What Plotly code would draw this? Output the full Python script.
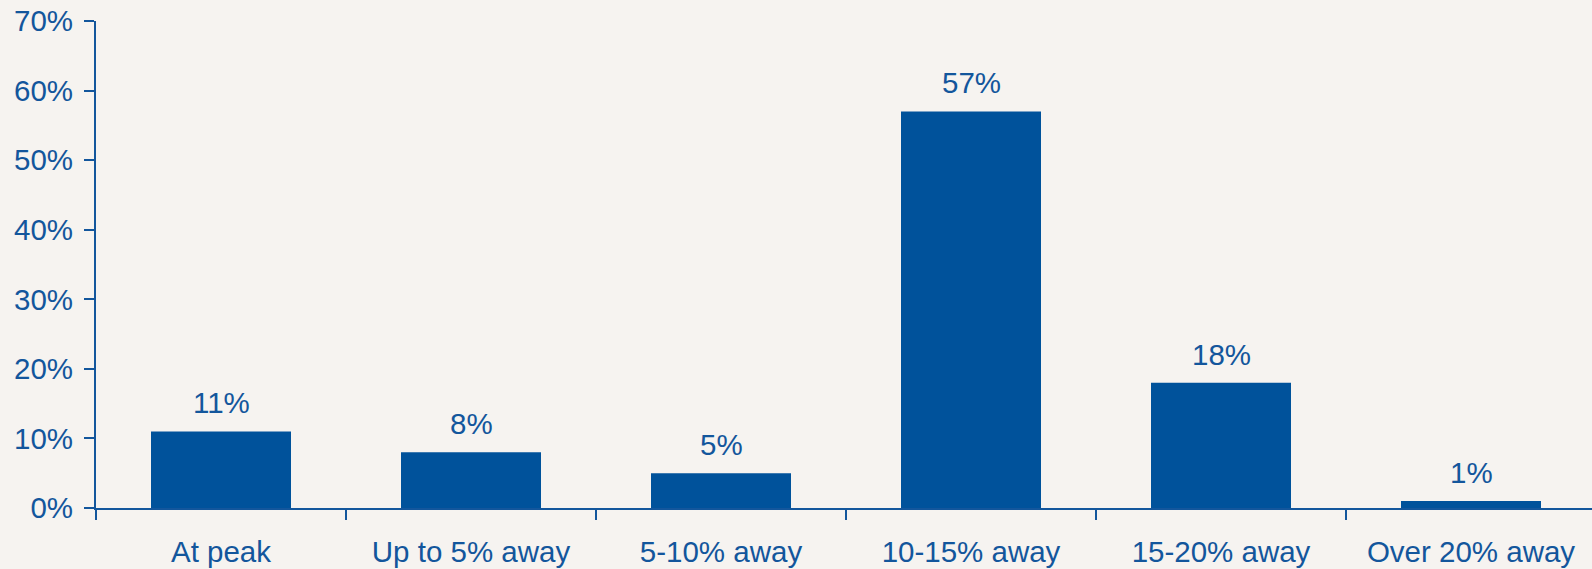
import plotly.graph_objects as go

categories = ["At peak", "Up to 5% away", "5-10% away", "10-15% away", "15-20% away", "Over 20% away"]
values = [11, 8, 5, 57, 18, 1]
labels = ["11%", "8%", "5%", "57%", "18%", "1%"]
y_ticks = [0, 10, 20, 30, 40, 50, 60, 70]
y_tick_labels = ["0%", "10%", "20%", "30%", "40%", "50%", "60%", "70%"]

BG = "#F6F3F0"
BAR = "#00529B"
TXT = "#13569C"
FONT = "Arial, Liberation Sans, sans-serif"
FS = 29.5

fig = go.Figure()
fig.add_trace(go.Bar(x=categories, y=values, marker=dict(color=BAR, line=dict(width=0)),
                     width=0.56, hoverinfo="skip"))

for c, v, t in zip(categories, values, labels):
    fig.add_annotation(x=c, y=v, text=t, showarrow=False, yanchor="bottom",
                       yshift=10, font=dict(family=FONT, size=FS, color=TXT))

fig.update_layout(
    width=1592, height=569,
    paper_bgcolor=BG, plot_bgcolor=BG,
    margin=dict(l=96, r=0, t=21, b=61),
    showlegend=False,
    font=dict(family=FONT, size=FS, color=TXT),
    xaxis=dict(type="category", range=[-0.5, 5.484], showgrid=False, zeroline=False,
               showline=True, linecolor=TXT, linewidth=2,
               ticks="outside", tickson="boundaries", ticklen=10, tickwidth=2, tickcolor=TXT,
               ticklabelstandoff=17,
               tickfont=dict(family=FONT, size=FS, color=TXT)),
    yaxis=dict(range=[0, 70], tickvals=y_ticks, ticktext=y_tick_labels, showgrid=False,
               zeroline=False, showline=True, linecolor=TXT, linewidth=2,
               ticks="outside", ticklen=10, tickwidth=2, tickcolor=TXT,
               ticklabelstandoff=5,
               tickfont=dict(family=FONT, size=FS, color=TXT)),
)

fig.write_html("out.html")
